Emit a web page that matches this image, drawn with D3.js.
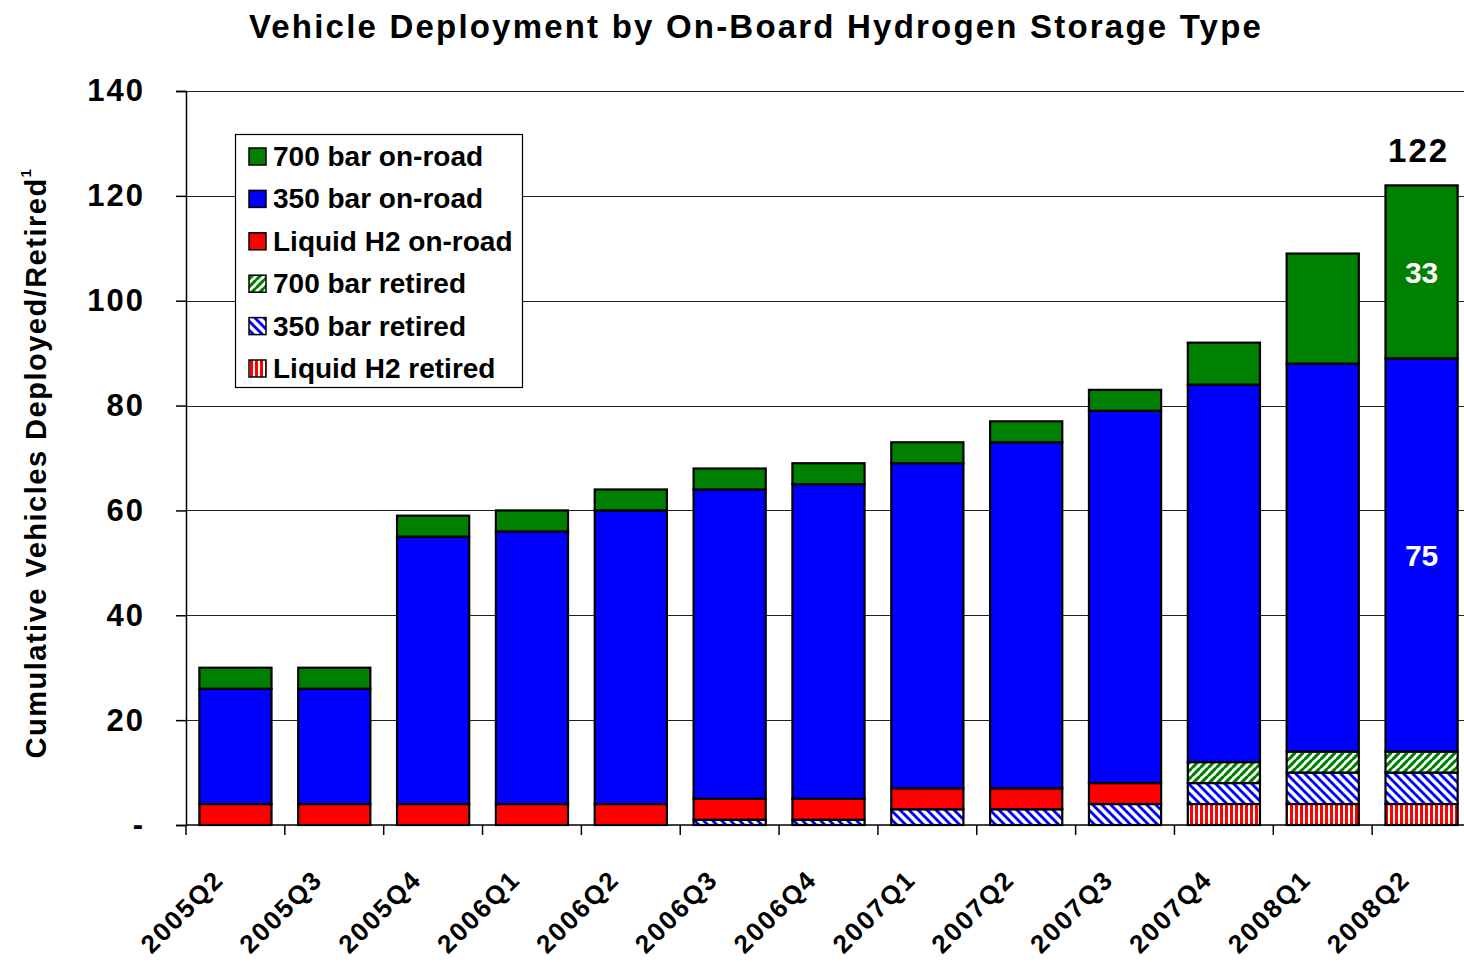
<!DOCTYPE html>
<html><head><meta charset="utf-8">
<script src="https://cdn.jsdelivr.net/npm/d3@7"></script>
<style>body{margin:0;background:#fff}svg{display:block}text{font-family:"Liberation Sans",Arial,sans-serif}</style>
</head><body><svg id="c" width="1464" height="962"></svg>
<script>
const categories = ["2005Q2","2005Q3","2005Q4","2006Q1","2006Q2","2006Q3","2006Q4","2007Q1","2007Q2","2007Q3","2007Q4","2008Q1","2008Q2"];
const liquidRetired = [0,0,0,0,0,0,0,0,0,0,4,4,4];
const bar350Retired = [0,0,0,0,0,1,1,3,3,4,4,6,6];
const bar700Retired = [0,0,0,0,0,0,0,0,0,0,4,4,4];
const liquidOnRoad = [4,4,4,4,4,4,4,4,4,4,0,0,0];
const bar350OnRoad = [22,22,51,52,56,59,60,62,66,71,72,74,75];
const bar700OnRoad = [4,4,4,4,4,4,4,4,4,4,8,21,33];
const yTicks = [0,20,40,60,80,100,120,140];
const legendLabels = ["700 bar on-road","350 bar on-road","Liquid H2 on-road","700 bar retired","350 bar retired","Liquid H2 retired"];

const svg = d3.select("#c");
const defs = svg.append("defs");
function diag(id,color,dir,size,sw){
  const p = defs.append("pattern").attr("id",id).attr("patternUnits","userSpaceOnUse").attr("width",size).attr("height",size);
  p.append("rect").attr("width",size).attr("height",size).attr("fill","#fff");
  const s=size;
  if(dir==="up"){
    [[-s,s,s,-s],[0,s,s,0],[0,2*s,2*s,0],[-s,s*2,s,0],[0,s,s,0]].forEach(([x1,y1,x2,y2])=>{
      p.append("line").attr("x1",x1).attr("y1",y1).attr("x2",x2).attr("y2",y2).attr("stroke",color).attr("stroke-width",sw);});
  } else {
    [[-s,0,s,2*s],[0,0,s,s],[0,-s,2*s,s]].forEach(([x1,y1,x2,y2])=>{
      p.append("line").attr("x1",x1).attr("y1",y1).attr("x2",x2).attr("y2",y2).attr("stroke",color).attr("stroke-width",sw);});
  }
}
diag("p700","#008000","up",8,2.6);
diag("p350","#0000ff","down",9,2.8);
const pv = defs.append("pattern").attr("id","pliq").attr("patternUnits","userSpaceOnUse").attr("width",5).attr("height",5);
pv.append("rect").attr("width",5).attr("height",5).attr("fill","#fff");
pv.append("rect").attr("width",3).attr("height",5).attr("fill","#ff0000");

const series = [
  {key:"Liquid H2 retired", vals:liquidRetired, fill:"url(#pliq)"},
  {key:"350 bar retired", vals:bar350Retired, fill:"url(#p350)"},
  {key:"700 bar retired", vals:bar700Retired, fill:"url(#p700)"},
  {key:"Liquid H2 on-road", vals:liquidOnRoad, fill:"#ff0000"},
  {key:"350 bar on-road", vals:bar350OnRoad, fill:"#0000ff"},
  {key:"700 bar on-road", vals:bar700OnRoad, fill:"#008000"}
];
const fillByKey = Object.fromEntries(series.map(s=>[s.key,s.fill]));
const table = categories.map((c,i)=>{const o={cat:c}; series.forEach(s=>o[s.key]=s.vals[i]); return o;});
const stack = d3.stack().keys(series.map(s=>s.key))(table);

const pL=186, pR=1471, pT=91, pB=825;
const x = d3.scaleBand().domain(categories).range([pL,pR]).paddingInner(0.27).paddingOuter(0.135);
const xb = d3.scaleBand().domain(categories).range([pL,pR]);
const y = d3.scaleLinear().domain([0,140]).range([pB,pT]);

// gridlines
svg.append("g").selectAll("line").data(yTicks.filter(d=>d>0)).join("line")
  .attr("x1",pL).attr("x2",1464).attr("y1",d=>Math.round(y(d))+0.5).attr("y2",d=>Math.round(y(d))+0.5)
  .attr("stroke","#222").attr("stroke-width",1.2);

// bars
svg.append("g").selectAll("g").data(stack).join("g").attr("fill",d=>fillByKey[d.key])
  .selectAll("rect").data(d=>d.filter(v=>v[1]-v[0]>0)).join("rect")
  .attr("x",d=>x(d.data.cat)).attr("width",x.bandwidth())
  .attr("y",d=>y(d[1])).attr("height",d=>y(d[0])-y(d[1]))
  .attr("stroke","#000").attr("stroke-width",2.2);

// y axis
const ya = svg.append("g").attr("transform",`translate(${pL},0)`)
  .call(d3.axisLeft(y).tickValues(yTicks).tickSize(10).tickPadding(31).tickFormat(d=>d===0?"-":d));
ya.select(".domain").attr("stroke","#000").attr("stroke-width",1.5);
ya.selectAll(".tick line").attr("stroke","#000").attr("stroke-width",1.5);
ya.selectAll("text").attr("font-size",31).attr("font-weight","bold").attr("letter-spacing",2).attr("fill","#000").attr("font-family","Liberation Sans, Arial, sans-serif");

// x axis
const xa = svg.append("g").attr("transform",`translate(0,${pB})`);
xa.append("line").attr("x1",pL).attr("x2",1464).attr("y1",0).attr("y2",0).attr("stroke","#000").attr("stroke-width",1.5);
xa.selectAll("line.t").data(categories).join("line").attr("class","t")
  .attr("x1",d=>xb(d)).attr("x2",d=>xb(d)).attr("y1",0).attr("y2",10).attr("stroke","#000").attr("stroke-width",1.5);
xa.selectAll("text").data(categories).join("text")
  .attr("transform",d=>`translate(${xb(d)+xb.bandwidth()/2-10},56) rotate(-45)`)
  .attr("text-anchor","end").attr("font-size",26).attr("letter-spacing",2).attr("font-weight","bold").text(d=>d);

// title
svg.append("text").attr("x",756).attr("y",38).attr("text-anchor","middle")
  .attr("font-size",33).attr("letter-spacing",2.2).attr("font-weight","bold").text("Vehicle Deployment by On-Board Hydrogen Storage Type");

// y label
const yl = svg.append("text").attr("transform","translate(46,463) rotate(-90)").attr("text-anchor","middle")
  .attr("font-size",29).attr("letter-spacing",1.5).attr("font-weight","bold");
yl.append("tspan").text("Cumulative Vehicles Deployed/Retired");
yl.append("tspan").attr("font-size",15).attr("dy",-15).text("1");

// value labels
const last = categories.length-1;
const lastCat = categories[last];
const seg350 = stack[4][last], seg700 = stack[5][last];
svg.append("text").attr("x",x(lastCat)+x.bandwidth()/2).attr("y",y((seg350[0]+seg350[1])/2)+11)
  .attr("text-anchor","middle").attr("fill","#fff").attr("font-size",30).attr("font-weight","bold").text(bar350OnRoad[last]);
svg.append("text").attr("x",x(lastCat)+x.bandwidth()/2).attr("y",y((seg700[0]+seg700[1])/2)+11)
  .attr("text-anchor","middle").attr("fill","#fff").attr("font-size",30).attr("font-weight","bold").text(bar700OnRoad[last]);
svg.append("text").attr("x",x(lastCat)+x.bandwidth()/2-3).attr("y",y(seg700[1])-23)
  .attr("text-anchor","middle").attr("fill","#000").attr("font-size",33).attr("letter-spacing",2).attr("font-weight","bold").text(seg700[1]);

// legend
const lg = svg.append("g");
lg.append("rect").attr("x",235.5).attr("y",134.5).attr("width",287).attr("height",253).attr("fill","#fff").attr("stroke","#000").attr("stroke-width",1.2);
const legFills = ["#008000","#0000ff","#ff0000","url(#p700)","url(#p350)","url(#pliq)"];
legendLabels.forEach((t,i)=>{
  const cy = 156 + i*42.4;
  lg.append("rect").attr("x",249).attr("y",cy-8).attr("width",17).attr("height",17).attr("fill",legFills[i]).attr("stroke","#000").attr("stroke-width",1.5);
  lg.append("text").attr("x",273).attr("y",cy+10).attr("font-size",28).attr("font-weight","bold").text(t);
});
</script></body></html>
